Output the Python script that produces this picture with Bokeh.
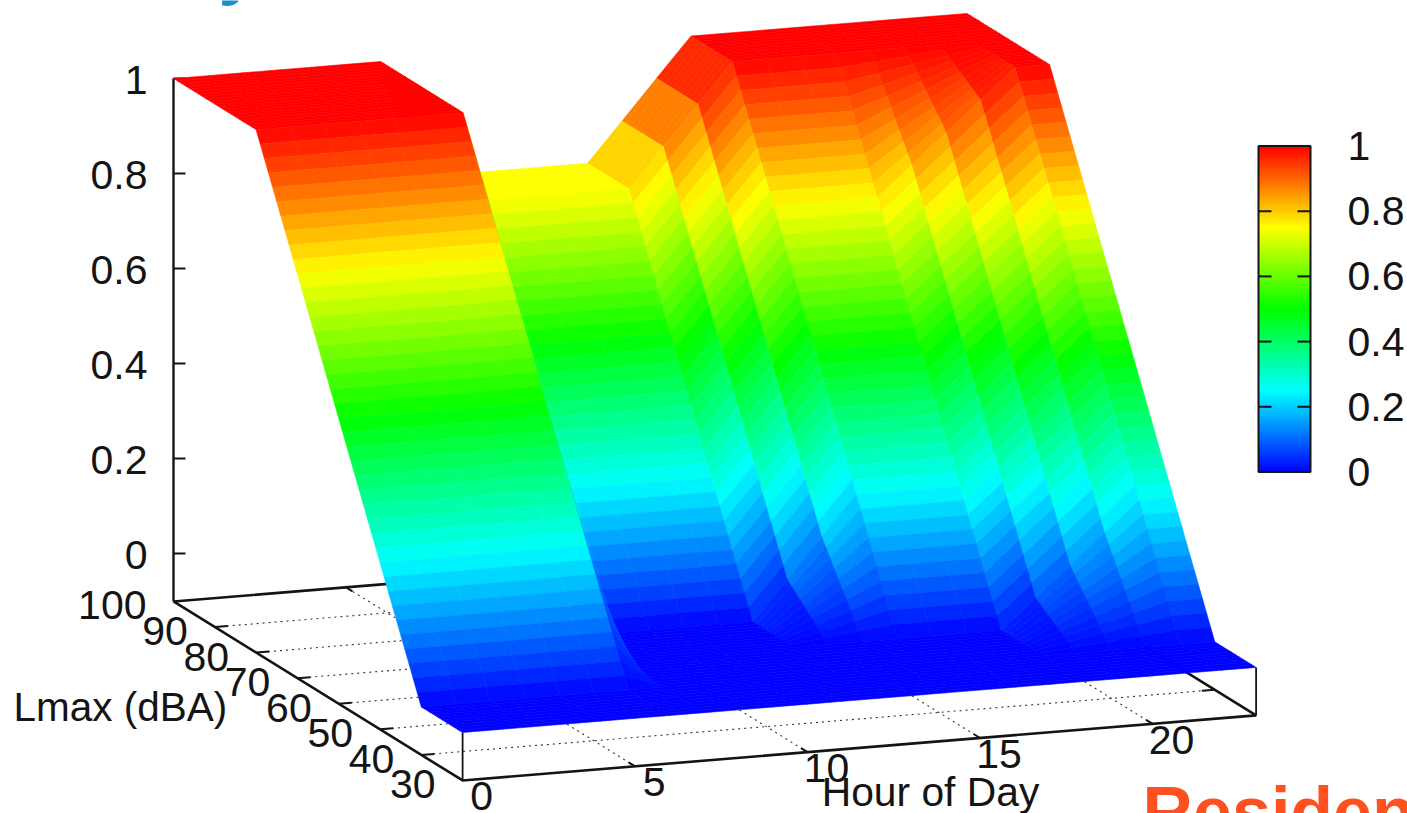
from bokeh.plotting import figure
from bokeh.models import Range1d
from bokeh.core.properties import value
from bokeh.embed import file_html
from bokeh.resources import INLINE

# ---- data -----------------------------------------------------------------
LMAX = [100, 90, 80, 70, 60, 50, 40, 30]
# probability per hour of day, one value per LMAX entry
z_00 = [1, 1, 1, 0.75, 0.5, 0.25, 0, 0]
z_01 = [1, 1, 1, 0.75, 0.5, 0.25, 0, 0]
z_02 = [1, 1, 1, 0.75, 0.5, 0.25, 0, 0]
z_03 = [1, 1, 1, 0.75, 0.5, 0.25, 0, 0]
z_04 = [1, 1, 1, 0.75, 0.5, 0.25, 0, 0]
z_05 = [1, 1, 1, 0.75, 0.5, 0.25, 0, 0]
z_06 = [1, 1, 1, 0.75, 0.5, 0.25, 0, 0]
z_07 = [0.75, 0.75, 0.5, 0.25, 0, 0, 0, 0]
z_08 = [0.75, 0.75, 0.5, 0.25, 0, 0, 0, 0]
z_09 = [0.75, 0.75, 0.5, 0.25, 0, 0, 0, 0]
z_10 = [0.75, 0.75, 0.5, 0.25, 0, 0, 0, 0]
z_11 = [0.75, 0.75, 0.5, 0.25, 0, 0, 0, 0]
z_12 = [0.75, 0.75, 0.5, 0.25, 0, 0, 0, 0]
z_13 = [0.833, 0.833, 0.583, 0.333, 0.083, 0, 0, 0]
z_14 = [0.917, 0.917, 0.667, 0.417, 0.167, 0, 0, 0]
z_15 = [1, 1, 0.75, 0.5, 0.25, 0, 0, 0]
z_16 = [1, 1, 0.75, 0.5, 0.25, 0, 0, 0]
z_17 = [1, 1, 0.75, 0.5, 0.25, 0, 0, 0]
z_18 = [1, 1, 0.75, 0.5, 0.25, 0, 0, 0]
z_19 = [1, 1, 0.8125, 0.5625, 0.3125, 0.0625, 0, 0]
z_20 = [1, 1, 0.875, 0.625, 0.375, 0.125, 0, 0]
z_21 = [1, 1, 0.9375, 0.6875, 0.4375, 0.1875, 0, 0]
z_22 = [1, 1, 1, 0.75, 0.5, 0.25, 0, 0]
z_23 = [1, 1, 1, 0.75, 0.5, 0.25, 0, 0]
SURFACE = [z_00, z_01, z_02, z_03, z_04, z_05, z_06, z_07, z_08, z_09, z_10, z_11,
           z_12, z_13, z_14, z_15, z_16, z_17, z_18, z_19, z_20, z_21, z_22, z_23]

Z_TICKS = [0, 0.2, 0.4, 0.6, 0.8, 1]
Z_LABELS = ["0", "0.2", "0.4", "0.6", "0.8", "1"]
CB_LABELS = ["0", "0.2", "0.4", "0.6", "0.8", "1"]
HOUR_TICKS = [0, 5, 10, 15, 20]
HOUR_LABELS = ["0", "5", "10", "15", "20"]
L_TICKS = [100, 90, 80, 70, 60, 50, 40, 30]
L_LABELS = ["100", "90", "80", "70", "60", "50", "40", "30"]

PAL_POS = [0, 0.25, 0.5, 0.75, 1]
PAL_RGB = [(0, 0, 255), (0, 255, 255), (0, 255, 0), (255, 255, 0), (255, 0, 0)]

# ---- projection of the 3D axes onto the page (gnuplot style, parallel) ------
W, H = 1407, 813
HOUR_MAX = 23
Z_BASE = -0.101
SUB = 10


def proj(h, L, z):
    x = 173 + 34.5 * h + 4.13 * (100 - L)
    y = 553 - 2.83 * h + 2.557 * (100 - L) - 475 * z
    return x, y


def colour(z):
    z = max(0.0, min(1.0, z))
    for i in range(len(PAL_POS) - 1):
        if z <= PAL_POS[i + 1]:
            t = (z - PAL_POS[i]) / (PAL_POS[i + 1] - PAL_POS[i])
            a, b = PAL_RGB[i], PAL_RGB[i + 1]
            return "#%02x%02x%02x" % tuple(round(a[k] + (b[k] - a[k]) * t) for k in range(3))
    return "#ff0000"


p = figure(width=W, height=H, x_range=Range1d(0, W), y_range=Range1d(H, 0),
           output_backend="svg", toolbar_location=None, min_border=0,
           margin=(0, 0, 0, 0))
p.axis.visible = False
p.grid.visible = False
p.outline_line_color = None
p.background_fill_color = "white"

INK = "#141414"
GRID = "#333333"
FONT = value("Liberation Sans")
FS = value("41px")

# ---- grid on the base plane --------------------------------------------------
gx, gy = [], []
for L in L_TICKS[1:-1]:
    a, b = proj(0, L, Z_BASE), proj(HOUR_MAX, L, Z_BASE)
    gx.append([a[0], b[0]]); gy.append([a[1], b[1]])
for h in HOUR_TICKS[1:]:
    a, b = proj(h, 30, Z_BASE), proj(h, 100, Z_BASE)
    gx.append([a[0], b[0]]); gy.append([a[1], b[1]])
p.multi_line(gx, gy, line_color=GRID, line_width=1.1, line_dash="2 4")

# ---- box, ticks --------------------------------------------------------------
corners = [proj(0, 100, Z_BASE), proj(0, 30, Z_BASE), proj(HOUR_MAX, 30, Z_BASE),
           proj(HOUR_MAX, 100, Z_BASE), proj(0, 100, Z_BASE)]
p.line([c[0] for c in corners], [c[1] for c in corners], line_color=INK, line_width=2.6)
ex, ey = [], []
for (h, L) in [(0, 100), (0, 30), (HOUR_MAX, 30)]:
    top = 1 if (h, L) == (0, 100) else 0
    a, b = proj(h, L, Z_BASE), proj(h, L, top)
    ex.append([a[0], b[0]]); ey.append([a[1], b[1]])
p.multi_line(ex, ey, line_color=INK, line_width=[2.4, 1.8, 1.8])

tx, ty = [], []
for L in L_TICKS[1:-1]:
    a = proj(0, L, Z_BASE)
    tx.append([a[0], a[0] + 13]); ty.append([a[1], a[1] - 1])
    b = proj(HOUR_MAX, L, Z_BASE)
    tx.append([b[0], b[0] - 13]); ty.append([b[1], b[1] + 1])
for h in HOUR_TICKS[1:]:
    a = proj(h, 30, Z_BASE)
    tx.append([a[0], a[0] - 6.5]); ty.append([a[1], a[1] - 4])
    b = proj(h, 100, Z_BASE)
    tx.append([b[0], b[0] + 6.5]); ty.append([b[1], b[1] + 4])
for z in Z_TICKS:
    a = proj(0, 100, z)
    tx.append([a[0], a[0] + 12]); ty.append([a[1], a[1]])
p.multi_line(tx, ty, line_color=INK, line_width=2)

# ---- surface: every 10 dB cell is split into SUB bands along Lmax ----------------
xs, ys, cols = [], [], []
for ih in range(len(SURFACE) - 2, -1, -1):
    left, right = SURFACE[ih], SURFACE[ih + 1]
    for iL in range(len(LMAX) - 1):
        for k in range(SUB):
            t0, t1 = k / SUB, (k + 1) / SUB
            L0 = LMAX[iL] + (LMAX[iL + 1] - LMAX[iL]) * t0
            L1 = LMAX[iL] + (LMAX[iL + 1] - LMAX[iL]) * t1
            za0 = left[iL] + (left[iL + 1] - left[iL]) * t0
            za1 = left[iL] + (left[iL + 1] - left[iL]) * t1
            zb0 = right[iL] + (right[iL + 1] - right[iL]) * t0
            zb1 = right[iL] + (right[iL + 1] - right[iL]) * t1
            pts = [proj(ih, L0, za0), proj(ih + 1, L0, zb0),
                   proj(ih + 1, L1, zb1), proj(ih, L1, za1)]
            xs.append([q[0] for q in pts])
            ys.append([q[1] for q in pts])
            cols.append(colour((za0 + za1 + zb0 + zb1) / 4))
p.patches(xs, ys, fill_color=cols, line_color=cols, line_width=0.6)

# ---- tick labels ---------------------------------------------------------------
lab_x = [proj(0, 100, z)[0] - 26 for z in Z_TICKS]
lab_y = [proj(0, 100, z)[1] + 1 for z in Z_TICKS]
p.text(lab_x, lab_y, text=Z_LABELS, text_font=FONT, text_font_size=FS,
       text_align="right", text_baseline="middle", text_color=INK)
lab_x = [proj(0, L, Z_BASE)[0] - 27 for L in L_TICKS]
lab_y = [proj(0, L, Z_BASE)[1] + 4 for L in L_TICKS]
p.text(lab_x, lab_y, text=L_LABELS, text_font=FONT, text_font_size=FS,
       text_align="right", text_baseline="middle", text_color=INK)
lab_x = [proj(h, 30, Z_BASE)[0] + 19 for h in HOUR_TICKS]
lab_y = [proj(h, 30, Z_BASE)[1] + 16 for h in HOUR_TICKS]
p.text(lab_x, lab_y, text=HOUR_LABELS, text_font=FONT, text_font_size=FS,
       text_align="center", text_baseline="middle", text_color=INK)

p.text([13], [706], text=["Lmax (dBA)"], text_font=FONT, text_font_size=value("40.5px"),
       text_align="left", text_baseline="middle", text_color=INK)
p.text([930], [791], text=["Hour of Day"], text_font=FONT, text_font_size=value("40.8px"),
       text_align="center", text_baseline="middle", text_color=INK)

# ---- colour box ------------------------------------------------------------------
CB_L, CB_R, CB_B, CB_T = 1258, 1310, 471.5, 145.5
STEPS = 163
cb_bot = [CB_B + (CB_T - CB_B) * i / STEPS for i in range(STEPS)]
cb_top = [CB_B + (CB_T - CB_B) * (i + 1) / STEPS for i in range(STEPS)]
cb_col = [colour((i + 0.5) / STEPS) for i in range(STEPS)]
p.quad(left=CB_L, right=CB_R, bottom=cb_bot, top=cb_top, fill_color=cb_col, line_color=cb_col, line_width=0.5)
p.quad(left=[CB_L], right=[CB_R], bottom=[CB_B], top=[CB_T], fill_color=None, line_color=INK, line_width=2)
cx, cy = [], []
for z in Z_TICKS[1:-1]:
    y = CB_B + (CB_T - CB_B) * z
    cx += [[CB_L, CB_L + 13], [CB_R - 13, CB_R]]
    cy += [[y, y], [y, y]]
p.multi_line(cx, cy, line_color=INK, line_width=2)
p.text([1347] * len(Z_TICKS), [CB_B + (CB_T - CB_B) * z for z in Z_TICKS], text=CB_LABELS,
       text_font=FONT, text_font_size=FS, text_align="left", text_baseline="middle", text_color=INK)

# ---- cropped slide text at the picture's edges --------------------------------------
p.text([1142], [811], text=["Residen"], text_font=FONT, text_font_size=value("70px"),
       text_font_style="bold", text_align="left", text_baseline="middle", text_color="#ff5020")
p.text([218], [-34], text=["y"], text_font=FONT, text_font_size=value("70px"),
       text_font_style="bold", text_align="left", text_baseline="middle", text_color="#1a8fc8")

open("out.html", "w").write(file_html(p, INLINE))
